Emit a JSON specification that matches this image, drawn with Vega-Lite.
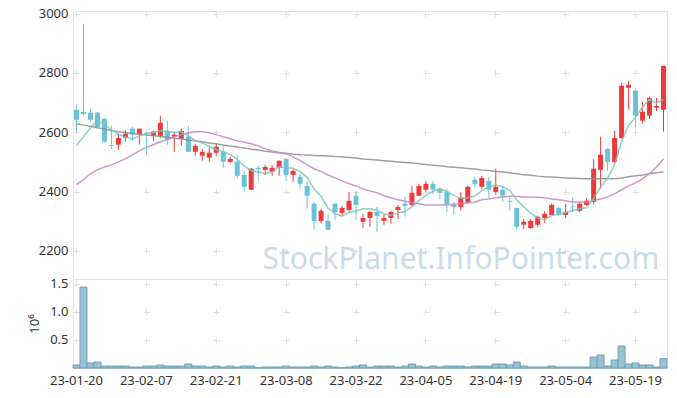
{
  "$schema": "https://vega.github.io/schema/vega-lite/v6.json",
  "padding": {"left": 28, "top": 7, "right": 9, "bottom": 2},
  "spacing": 0,
  "bounds": "flush",
  "config": {
    "view": {"stroke": "#e3e3e3"},
    "font": "Noto Sans",
    "axis": {"labelFont": "Noto Sans", "labelFontSize": 13, "labelColor": "#333333", "ticks": false, "domain": false, "grid": false, "titleFont": "Noto Sans", "gridColor": "#dedede", "gridWidth": 1}
  },
  "datasets": {
    "px": [
      {"d":"23-01-20","o":2676,"h":2696,"l":2602,"c":2642,"v":0.053,"m5":2555,"m20":2423,"m60":2629},
      {"d":"23-01-25","o":2669,"h":2966,"l":2656,"c":2662,"v":1.436,"m5":2585,"m20":2440,"m60":2624},
      {"d":"23-01-26","o":2666,"h":2679,"l":2635,"c":2642,"v":0.089,"m5":2615,"m20":2460,"m60":2620},
      {"d":"23-01-27","o":2666,"h":2669,"l":2615,"c":2618,"v":0.106,"m5":2640,"m20":2473,"m60":2615},
      {"d":"23-01-30","o":2645,"h":2648,"l":2565,"c":2568,"v":0.035,"m5":2626,"m20":2483,"m60":2611},
      {"d":"23-01-31","o":2557,"h":2622,"l":2544,"c":2554,"v":0.035,"m5":2609,"m20":2490,"m60":2606},
      {"d":"23-02-01","o":2558,"h":2595,"l":2541,"c":2581,"v":0.035,"m5":2593,"m20":2500,"m60":2602},
      {"d":"23-02-02","o":2581,"h":2608,"l":2568,"c":2595,"v":0.035,"m5":2583,"m20":2510,"m60":2599},
      {"d":"23-02-03","o":2612,"h":2618,"l":2571,"c":2592,"v":0.018,"m5":2578,"m20":2524,"m60":2596},
      {"d":"23-02-06","o":2592,"h":2612,"l":2558,"c":2612,"v":0.018,"m5":2587,"m20":2537,"m60":2594},
      {"d":"23-02-07","o":2597,"h":2602,"l":2524,"c":2594,"v":0.035,"m5":2595,"m20":2548,"m60":2591},
      {"d":"23-02-08","o":2588,"h":2605,"l":2571,"c":2602,"v":0.035,"m5":2599,"m20":2558,"m60":2588},
      {"d":"23-02-09","o":2588,"h":2656,"l":2581,"c":2632,"v":0.053,"m5":2606,"m20":2568,"m60":2586},
      {"d":"23-02-10","o":2605,"h":2639,"l":2558,"c":2575,"v":0.035,"m5":2603,"m20":2575,"m60":2583},
      {"d":"23-02-13","o":2585,"h":2602,"l":2534,"c":2592,"v":0.035,"m5":2599,"m20":2585,"m60":2580},
      {"d":"23-02-14","o":2578,"h":2612,"l":2554,"c":2605,"v":0.035,"m5":2601,"m20":2592,"m60":2577},
      {"d":"23-02-15","o":2585,"h":2622,"l":2534,"c":2534,"v":0.071,"m5":2588,"m20":2598,"m60":2574},
      {"d":"23-02-16","o":2534,"h":2561,"l":2521,"c":2554,"v":0.035,"m5":2572,"m20":2602,"m60":2571},
      {"d":"23-02-17","o":2521,"h":2544,"l":2504,"c":2534,"v":0.035,"m5":2564,"m20":2602,"m60":2568},
      {"d":"23-02-20","o":2514,"h":2548,"l":2500,"c":2531,"v":0.018,"m5":2552,"m20":2598,"m60":2564},
      {"d":"23-02-21","o":2531,"h":2564,"l":2521,"c":2551,"v":0.035,"m5":2541,"m20":2592,"m60":2561},
      {"d":"23-02-22","o":2534,"h":2554,"l":2480,"c":2500,"v":0.018,"m5":2534,"m20":2585,"m60":2557},
      {"d":"23-02-23","o":2500,"h":2517,"l":2497,"c":2510,"v":0.035,"m5":2525,"m20":2578,"m60":2554},
      {"d":"23-02-24","o":2500,"h":2521,"l":2443,"c":2453,"v":0.018,"m5":2509,"m20":2571,"m60":2550},
      {"d":"23-02-27","o":2456,"h":2470,"l":2399,"c":2416,"v":0.035,"m5":2486,"m20":2566,"m60":2547},
      {"d":"23-02-28","o":2406,"h":2480,"l":2406,"c":2477,"v":0.035,"m5":2471,"m20":2561,"m60":2543},
      {"d":"23-03-02","o":2479,"h":2490,"l":2436,"c":2475,"v":0.005,"m5":2466,"m20":2554,"m60":2540},
      {"d":"23-03-03","o":2473,"h":2490,"l":2456,"c":2483,"v":0.018,"m5":2461,"m20":2544,"m60":2536},
      {"d":"23-03-06","o":2467,"h":2490,"l":2453,"c":2480,"v":0.018,"m5":2466,"m20":2537,"m60":2533},
      {"d":"23-03-07","o":2480,"h":2504,"l":2453,"c":2504,"v":0.018,"m5":2484,"m20":2532,"m60":2531},
      {"d":"23-03-08","o":2510,"h":2512,"l":2436,"c":2456,"v":0.035,"m5":2480,"m20":2527,"m60":2529},
      {"d":"23-03-09","o":2456,"h":2480,"l":2433,"c":2470,"v":0.018,"m5":2479,"m20":2517,"m60":2526},
      {"d":"23-03-10","o":2450,"h":2460,"l":2409,"c":2426,"v":0.018,"m5":2467,"m20":2504,"m60":2524},
      {"d":"23-03-13","o":2419,"h":2433,"l":2342,"c":2386,"v":0.018,"m5":2448,"m20":2490,"m60":2523},
      {"d":"23-03-14","o":2359,"h":2365,"l":2274,"c":2301,"v":0.035,"m5":2408,"m20":2477,"m60":2522},
      {"d":"23-03-15","o":2301,"h":2342,"l":2294,"c":2335,"v":0.018,"m5":2384,"m20":2467,"m60":2521},
      {"d":"23-03-16","o":2301,"h":2325,"l":2271,"c":2271,"v":0.035,"m5":2344,"m20":2456,"m60":2520},
      {"d":"23-03-17","o":2359,"h":2359,"l":2305,"c":2331,"v":0.018,"m5":2325,"m20":2446,"m60":2518},
      {"d":"23-03-20","o":2328,"h":2352,"l":2318,"c":2345,"v":0.005,"m5":2317,"m20":2436,"m60":2517},
      {"d":"23-03-21","o":2338,"h":2399,"l":2331,"c":2369,"v":0.018,"m5":2330,"m20":2426,"m60":2515},
      {"d":"23-03-22","o":2386,"h":2399,"l":2305,"c":2355,"v":0.035,"m5":2334,"m20":2419,"m60":2513},
      {"d":"23-03-23","o":2298,"h":2325,"l":2277,"c":2311,"v":0.053,"m5":2342,"m20":2409,"m60":2510},
      {"d":"23-03-24","o":2311,"h":2335,"l":2281,"c":2331,"v":0.018,"m5":2342,"m20":2402,"m60":2508},
      {"d":"23-03-27","o":2331,"h":2348,"l":2264,"c":2318,"v":0.035,"m5":2337,"m20":2396,"m60":2506},
      {"d":"23-03-28","o":2301,"h":2325,"l":2288,"c":2311,"v":0.035,"m5":2325,"m20":2386,"m60":2504},
      {"d":"23-03-29","o":2311,"h":2335,"l":2291,"c":2331,"v":0.035,"m5":2320,"m20":2379,"m60":2502},
      {"d":"23-03-30","o":2338,"h":2355,"l":2308,"c":2348,"v":0.018,"m5":2328,"m20":2372,"m60":2500},
      {"d":"23-03-31","o":2359,"h":2382,"l":2315,"c":2352,"v":0.035,"m5":2332,"m20":2367,"m60":2498},
      {"d":"23-04-03","o":2355,"h":2419,"l":2352,"c":2396,"v":0.071,"m5":2348,"m20":2362,"m60":2496},
      {"d":"23-04-04","o":2386,"h":2426,"l":2386,"c":2419,"v":0.035,"m5":2369,"m20":2359,"m60":2494},
      {"d":"23-04-05","o":2406,"h":2436,"l":2399,"c":2426,"v":0.018,"m5":2388,"m20":2355,"m60":2491},
      {"d":"23-04-06","o":2426,"h":2436,"l":2392,"c":2406,"v":0.035,"m5":2400,"m20":2355,"m60":2489},
      {"d":"23-04-07","o":2409,"h":2416,"l":2375,"c":2396,"v":0.018,"m5":2409,"m20":2355,"m60":2487},
      {"d":"23-04-10","o":2399,"h":2409,"l":2331,"c":2355,"v":0.035,"m5":2400,"m20":2355,"m60":2484},
      {"d":"23-04-11","o":2355,"h":2365,"l":2321,"c":2348,"v":0.035,"m5":2386,"m20":2357,"m60":2482},
      {"d":"23-04-12","o":2348,"h":2399,"l":2335,"c":2379,"v":0.035,"m5":2377,"m20":2359,"m60":2480},
      {"d":"23-04-13","o":2362,"h":2419,"l":2359,"c":2416,"v":0.018,"m5":2379,"m20":2362,"m60":2478},
      {"d":"23-04-14","o":2440,"h":2450,"l":2416,"c":2426,"v":0.035,"m5":2385,"m20":2365,"m60":2476},
      {"d":"23-04-17","o":2416,"h":2453,"l":2409,"c":2446,"v":0.035,"m5":2403,"m20":2372,"m60":2473},
      {"d":"23-04-18","o":2436,"h":2450,"l":2379,"c":2406,"v":0.035,"m5":2415,"m20":2375,"m60":2471},
      {"d":"23-04-19","o":2399,"h":2477,"l":2389,"c":2416,"v":0.071,"m5":2422,"m20":2379,"m60":2468},
      {"d":"23-04-20","o":2406,"h":2416,"l":2365,"c":2386,"v":0.071,"m5":2416,"m20":2382,"m60":2466},
      {"d":"23-04-21","o":2369,"h":2386,"l":2335,"c":2366,"v":0.053,"m5":2404,"m20":2384,"m60":2463},
      {"d":"23-04-24","o":2345,"h":2345,"l":2274,"c":2281,"v":0.106,"m5":2371,"m20":2384,"m60":2460},
      {"d":"23-04-25","o":2288,"h":2308,"l":2274,"c":2298,"v":0.035,"m5":2349,"m20":2382,"m60":2457},
      {"d":"23-04-26","o":2277,"h":2308,"l":2274,"c":2301,"v":0.018,"m5":2326,"m20":2382,"m60":2455},
      {"d":"23-04-27","o":2288,"h":2318,"l":2281,"c":2315,"v":0.018,"m5":2312,"m20":2381,"m60":2452},
      {"d":"23-04-28","o":2311,"h":2335,"l":2294,"c":2325,"v":0.018,"m5":2304,"m20":2379,"m60":2450},
      {"d":"23-05-02","o":2321,"h":2359,"l":2321,"c":2355,"v":0.035,"m5":2319,"m20":2375,"m60":2449},
      {"d":"23-05-03","o":2345,"h":2348,"l":2318,"c":2321,"v":0.018,"m5":2323,"m20":2372,"m60":2447},
      {"d":"23-05-04","o":2321,"h":2359,"l":2311,"c":2331,"v":0.018,"m5":2329,"m20":2369,"m60":2446},
      {"d":"23-05-08","o":2350,"h":2379,"l":2331,"c":2347,"v":0.018,"m5":2336,"m20":2365,"m60":2445},
      {"d":"23-05-09","o":2335,"h":2362,"l":2331,"c":2359,"v":0.018,"m5":2343,"m20":2365,"m60":2444},
      {"d":"23-05-10","o":2355,"h":2379,"l":2352,"c":2369,"v":0.018,"m5":2345,"m20":2365,"m60":2443},
      {"d":"23-05-11","o":2365,"h":2510,"l":2359,"c":2477,"v":0.195,"m5":2377,"m20":2369,"m60":2443},
      {"d":"23-05-12","o":2473,"h":2585,"l":2409,"c":2524,"v":0.23,"m5":2415,"m20":2375,"m60":2443},
      {"d":"23-05-15","o":2544,"h":2546,"l":2470,"c":2500,"v":0.035,"m5":2446,"m20":2382,"m60":2443},
      {"d":"23-05-16","o":2500,"h":2605,"l":2497,"c":2581,"v":0.142,"m5":2490,"m20":2392,"m60":2443},
      {"d":"23-05-17","o":2581,"h":2767,"l":2578,"c":2757,"v":0.39,"m5":2568,"m20":2406,"m60":2446},
      {"d":"23-05-18","o":2750,"h":2774,"l":2679,"c":2760,"v":0.071,"m5":2624,"m20":2419,"m60":2450},
      {"d":"23-05-19","o":2740,"h":2747,"l":2618,"c":2656,"v":0.089,"m5":2651,"m20":2429,"m60":2453},
      {"d":"23-05-22","o":2639,"h":2703,"l":2632,"c":2669,"v":0.053,"m5":2685,"m20":2443,"m60":2456},
      {"d":"23-05-23","o":2656,"h":2720,"l":2645,"c":2716,"v":0.053,"m5":2712,"m20":2460,"m60":2460},
      {"d":"23-05-24","o":2683,"h":2716,"l":2672,"c":2689,"v":0.018,"m5":2698,"m20":2483,"m60":2463},
      {"d":"23-05-25","o":2676,"h":2824,"l":2602,"c":2824,"v":0.165,"m5":2711,"m20":2510,"m60":2467}
    ],
    "wm": [{"t": "StockPlanet.InfoPointer.com", "d": "23-04-12", "y": 2140}]
  },
  "vconcat": [
    {
      "width": 594,
      "height": 268,
      "layer": [
        {
          "data": {"name": "px"},
          "layer": [
            {
              "mark": {"type": "rule", "strokeWidth": 1},
              "encoding": {
                "y": {"field": "l", "type": "quantitative", "title": null,
                  "scale": {"domain": [2105, 3009], "nice": false, "zero": false},
                  "axis": {"values": [2200, 2400, 2600, 2800, 3000], "format": "d", "labelPadding": 5, "grid": true, "gridDash": [6, 63.88], "gridDashOffset": -0.494}},
                "y2": {"field": "h"},
                "color": {"condition": {"test": "datum.c >= datum.o", "value": "#ef3a3a"}, "value": "#69c2d8"}
              }
            },
            {
              "mark": {"type": "bar", "width": 5},
              "encoding": {
                "y": {"field": "o", "type": "quantitative", "title": null},
                "y2": {"field": "c"},
                "color": {"condition": {"test": "datum.c >= datum.o", "value": "#ef3a3a"}, "value": "#69c2d8"}
              }
            },
            {
              "mark": {"type": "line", "color": "#8f8f8f", "strokeWidth": 1.5, "opacity": 0.85},
              "encoding": {"y": {"field": "m60", "type": "quantitative", "title": null}}
            },
            {
              "mark": {"type": "line", "color": "#c98bc4", "strokeWidth": 1.5, "opacity": 0.9},
              "encoding": {"y": {"field": "m20", "type": "quantitative", "title": null}}
            },
            {
              "mark": {"type": "line", "color": "#7cc6bc", "strokeWidth": 1.5, "opacity": 0.85},
              "encoding": {"y": {"field": "m5", "type": "quantitative", "title": null}}
            }
          ]
        },
        {
          "data": {"name": "wm"},
          "mark": {"type": "text", "fontSize": 30, "color": "#c9dce6", "baseline": "alphabetic", "align": "center", "font": "Noto Sans"},
          "encoding": {
            "x": {"field": "d", "type": "ordinal", "band": 0.5},
            "y": {"field": "y", "type": "quantitative", "title": null},
            "text": {"field": "t"}
          }
        }
      ],
      "encoding": {
        "x": {"field": "d", "type": "ordinal", "sort": null, "scale": {"type": "band", "paddingInner": 0, "paddingOuter": 0},
          "axis": {"values": ["23-01-20","23-02-07","23-02-21","23-03-08","23-03-22","23-04-05","23-04-19","23-05-04","23-05-19"], "labels": false, "title": null, "bandPosition": 0.5, "grid": true, "gridDash": [6, 53.27], "gridDashOffset": 0.33}}
      }
    },
    {
      "width": 594,
      "height": 89,
      "data": {"name": "px"},
      "mark": {"type": "bar", "width": {"band": 1}, "fill": "#98c2d2", "stroke": "#6da2b7", "strokeWidth": 1},
      "encoding": {
        "x": {"field": "d", "type": "ordinal", "sort": null, "scale": {"type": "band", "paddingInner": 0, "paddingOuter": 0},
          "axis": {"values": ["23-01-20","23-02-07","23-02-21","23-03-08","23-03-22","23-04-05","23-04-19","23-05-04","23-05-19"], "labelAngle": 0, "labelPadding": 6, "title": null, "domain": true, "domainColor": "#cccccc", "bandPosition": 0.5, "grid": true, "gridDash": [6, 22.23, 6, 22.23, 6, 300], "gridDashOffset": -1.52}},
        "y": {"field": "v", "type": "quantitative", "scale": {"domain": [0, 1.58], "nice": false},
          "axis": {"values": [0.5, 1, 1.5], "format": ".1f", "labelPadding": 5, "title": "10⁶", "titleFontSize": 13, "titleFontWeight": "normal", "titleColor": "#333333", "titlePadding": 8, "grid": true, "gridDash": [6, 63.88], "gridDashOffset": -0.494}}
      }
    }
  ]
}
